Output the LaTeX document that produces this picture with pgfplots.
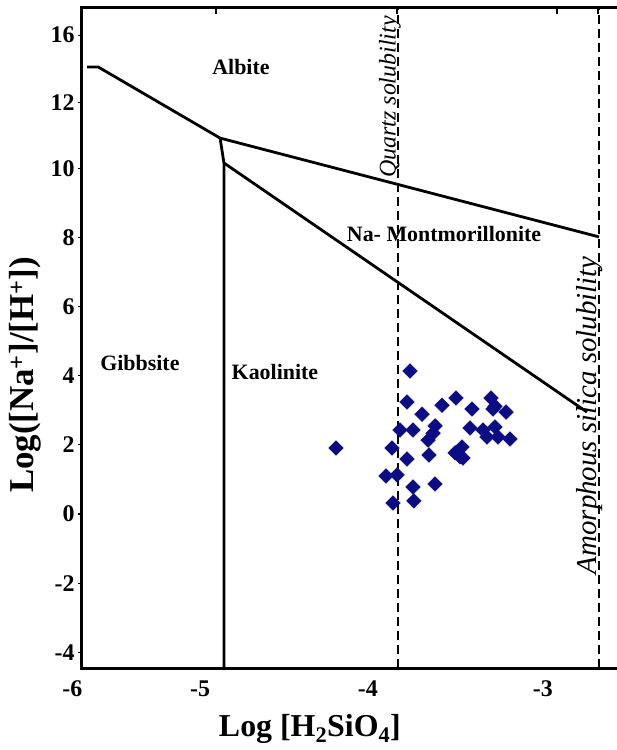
\documentclass[border=0pt]{standalone}
\usepackage{fontspec}
\setmainfont{Liberation Serif}
\usepackage{pgfplots}
\usepackage{pgfplotstable}
\pgfplotsset{compat=1.18}

\definecolor{samplenavy}{RGB}{12,12,132}

% Water samples: log[H4SiO4] vs log([Na+]/[H+])
\pgfplotstableread{
x       y
-3.923  4.14
-3.942  3.24
-3.716  3.15
-3.626  3.36
-3.400  3.36
-3.523  3.04
-3.387  3.04
-3.374  3.12
-3.303  2.95
-3.845  2.89
-3.761  2.55
-3.987  2.43
-3.903  2.43
-3.535  2.49
-3.452  2.43
-3.374  2.52
-3.774  2.34
-3.426  2.23
-3.355  2.23
-3.277  2.17
-3.806  2.14
-4.400  1.91
-4.039  1.91
-3.587  1.94
-3.800  1.71
-3.632  1.77
-3.942  1.59
-3.581  1.62
-3.600  1.66
-4.077  1.10
-4.006  1.13
-3.761  0.87
-3.903  0.78
-3.897  0.38
-4.032  0.32
}\samples

% Phase boundaries
\pgfplotstableread{
x       y
-6.006  12.94
-5.935  12.94
-5.148  10.88
-2.703  8.02
}\albiteline
\pgfplotstableread{
x       y
-5.148  10.88
-5.123  10.16
-5.123  -4.457
}\kaolline
\pgfplotstableread{
x       y
-5.123  10.16
-2.781  2.95
}\montline

\begin{document}
\begin{tikzpicture}
\begin{axis}[
  scale only axis,
  width=535bp, height=660bp,
  xmin=-6.0387, xmax=-2.5871,
  ymin=-4.457, ymax=14.645,
  axis lines*=left,
  axis line style={line width=3bp, line cap=rect},
  clip=false,
  xtick={-6.037,-5.277,-4.194,-3.065},
  xticklabels={\llap{-6},-5,-4,-3},
  xtick style={draw=none},
  xticklabel style={yshift=-5bp},
  ytick={-4,-2,0,2,4,6,8,10,11.9,13.86},
  yticklabels={-4,-2,0,2,4,6,8,10,12,16},
  ytick style={line width=1.2bp, black},
  tick align=outside,
  major tick length=4bp,
  ticklabel style={font=\fontsize{24}{24}\selectfont\bfseries},
  xlabel={Log [H\textsubscript{2}SiO\textsubscript{4}]},
  ylabel={Log([Na\textsuperscript{+}]/[H\textsuperscript{+}])},
  label style={font=\fontsize{32}{32}\selectfont\bfseries},
  xlabel style={at={(axis description cs:0.426,-0.0925)}, anchor=center},
  ylabel style={at={(axis description cs:-0.106,0.444)}, anchor=center,
    font=\fontsize{35}{35}\selectfont\bfseries},
]
  % mineral stability boundaries
  \addplot[black, line width=2.8bp, line join=round] table[x=x,y=y]{\albiteline};
  \addplot[black, line width=2.8bp, line join=round] table[x=x,y=y]{\kaolline};
  \addplot[black, line width=2.8bp, line join=round] table[x=x,y=y]{\montline};

  % silica saturation limits
  \addplot[black, line width=2bp, dash pattern=on 9bp off 5bp]
    coordinates {(-4.0,-4.457) (-4.0,14.645)};
  \addplot[black, line width=2bp, dash pattern=on 9bp off 5bp]
    coordinates {(-2.703,-4.457) (-2.703,14.645)};

  % samples
  \addplot[only marks, mark=square*, mark size=5.2bp,
    mark options={rotate=45, fill=samplenavy, draw=samplenavy}]
    table[x=x,y=y]{\samples};

  % top frame with its ticks
  \draw[line width=3bp, line cap=rect] (rel axis cs:0,1) -- (rel axis cs:1,1);
  \draw[line width=1.2bp] (axis cs:-5.174,14.645) -- ([yshift=-6bp]axis cs:-5.174,14.645);
  \draw[line width=1.2bp] (axis cs:-4.006,14.645) -- ([yshift=-6bp]axis cs:-4.006,14.645);
  \draw[line width=1.2bp] (axis cs:-2.974,14.645) -- ([yshift=-6bp]axis cs:-2.974,14.645);
  \draw[line width=1.2bp] (axis cs:-2.710,14.645) -- ([yshift=-6bp]axis cs:-2.710,14.645);

  % field names
  \begin{scope}[every node/.style={font=\fontsize{22}{22}\selectfont\bfseries}]
    \node at (axis cs:-5.013,12.94) {Albite};
    \node at (axis cs:-5.665,4.38) {Gibbsite};
    \node at (axis cs:-4.794,4.11) {Kaolinite};
    \node at (axis cs:-3.703,8.10) {Na- Montmorillonite};
  \end{scope}
  \node[rotate=90, font=\fontsize{24}{24}\selectfont\itshape]
    at (axis cs:-4.052,12.07) {Quartz solubility};
  \node[rotate=90, font=\fontsize{29}{29}\selectfont\itshape]
    at (axis cs:-2.761,2.86) {Amorphous silica solubility};

  \coordinate (bl) at (rel axis cs:0,0);
  \coordinate (tr) at (rel axis cs:1,1);
\end{axis}
\pgfresetboundingbox
\path[use as bounding box] ([shift={(-82bp,-82bp)}]bl) rectangle ([shift={(0bp,8bp)}]tr);
\end{tikzpicture}
\end{document}
